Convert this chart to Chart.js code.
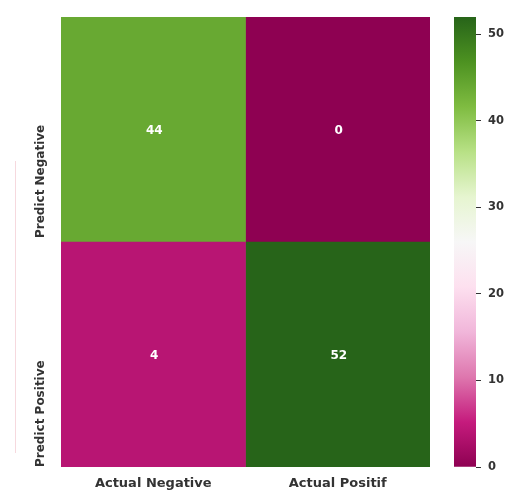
<!DOCTYPE html>
<html>
<head>
<meta charset="utf-8">
<script src="https://cdn.jsdelivr.net/npm/chart.js@4.4.1/dist/chart.umd.min.js"></script>
<style>
  html, body { margin: 0; padding: 0; background: #ffffff; }
  #wrap { position: relative; width: 510px; height: 496px; }
  #heat { position: absolute; left: 0; top: 0; }
  #cbar { position: absolute; left: 440px; top: 0; }
  #rule { position: absolute; left: 15px; top: 161px; width: 0; height: 292px; border-left: 1px solid #f6d9de; }
</style>
</head>
<body>
<div id="wrap">
  <div id="rule"></div>
  <canvas id="heat" width="440" height="496"></canvas>
  <canvas id="cbar" width="70" height="496"></canvas>
</div>
<script>
// Confusion matrix: rows are predictions, columns are actual classes
const rowLabels = ['Predict Negative', 'Predict Positive'];
const colLabels = ['Actual Negative', 'Actual Positif'];
const actualNegative = [44, 4];
const actualPositif = [0, 52];
const colorbarTicks = [0, 10, 20, 30, 40, 50];
const vmin = 0;
const vmax = 52;

// PiYG diverging colormap (11 ColorBrewer stops)
const PIYG = ['#8e0152', '#c51b7d', '#de77ae', '#f1b6da', '#fde0ef', '#f7f7f7',
              '#e6f5d0', '#b8e186', '#7fbc41', '#4d9221', '#276419'];

function hexToRgb(h) {
  return [parseInt(h.slice(1, 3), 16), parseInt(h.slice(3, 5), 16), parseInt(h.slice(5, 7), 16)];
}
function piyg(v) {
  let t = (v - vmin) / (vmax - vmin);
  t = Math.max(0, Math.min(1, t));
  const pos = t * (PIYG.length - 1);
  const i = Math.min(Math.floor(pos), PIYG.length - 2);
  const f = pos - i;
  const a = hexToRgb(PIYG[i]), b = hexToRgb(PIYG[i + 1]);
  const c = a.map((x, k) => Math.round(x + (b[k] - x) * f));
  return 'rgb(' + c.join(',') + ')';
}

const TEXT = '#333333';
const FONT = 'DejaVu Sans, sans-serif';

const columns = [actualNegative, actualPositif];
const datasets = columns.map((vals, ci) => ({
  label: colLabels[ci],
  data: vals.map(() => [ci, ci + 1]),
  values: vals,
  backgroundColor: vals.map(piyg),
  borderWidth: 0,
  barPercentage: 1,
  categoryPercentage: 1
}));

// Cell annotations and rotated row labels
const annotate = {
  id: 'annotate',
  afterDatasetsDraw(chart) {
    const ctx = chart.ctx;
    ctx.save();
    ctx.fillStyle = '#ffffff';
    ctx.font = 'bold 12px ' + FONT;
    ctx.textAlign = 'center';
    ctx.textBaseline = 'middle';
    chart.data.datasets.forEach((ds, di) => {
      chart.getDatasetMeta(di).data.forEach((bar, i) => {
        const cx = (bar.x + bar.base) / 2;
        ctx.fillText(String(ds.values[i]), cx + 1, bar.y + 1);
      });
    });
    ctx.restore();
  },
  afterDraw(chart) {
    const ctx = chart.ctx;
    const y = chart.scales.y;
    ctx.save();
    ctx.fillStyle = TEXT;
    ctx.font = 'bold 12px ' + FONT;
    ctx.textAlign = 'left';
    ctx.textBaseline = 'middle';
    rowLabels.forEach((lab, i) => {
      const bottom = y.getPixelForValue(i + 0.5);
      ctx.save();
      ctx.translate(chart.chartArea.left - 20, bottom - (i === 0 ? 4 : 0));
      ctx.rotate(-Math.PI / 2);
      ctx.fillText(lab, 0, 0);
      ctx.restore();
    });
    ctx.restore();
  }
};

new Chart(document.getElementById('heat'), {
  type: 'bar',
  data: { labels: rowLabels, datasets },
  options: {
    indexAxis: 'y',
    responsive: false,
    animation: false,
    layout: { padding: { left: 61, right: 10, top: 17, bottom: 0 } },
    plugins: { legend: { display: false }, tooltip: { enabled: false } },
    scales: {
      y: {
        type: 'category',
        stacked: true,
        display: false
      },
      x: {
        type: 'linear',
        min: 0,
        max: 2,
        stacked: false,
        grid: { display: false, drawTicks: false },
        border: { display: false },
        afterBuildTicks: (s) => { s.ticks = colLabels.map((_, i) => ({ value: i + 0.5 })); },
        afterFit: (s) => { s.height = 29; },
        ticks: {
          padding: 9,
          color: TEXT,
          font: { family: FONT, size: 13, weight: 'bold' },
          maxRotation: 0,
          callback: (v) => colLabels[Math.floor(v)]
        }
      }
    }
  },
  plugins: [annotate]
});

// Colorbar
function colorbarGradient(context) {
  const chart = context.chart;
  const area = chart.chartArea;
  if (!area) return PIYG[0];
  const y = chart.scales.y;
  const y0 = y.getPixelForValue(vmin), y1 = y.getPixelForValue(vmax);
  const g = chart.ctx.createLinearGradient(0, y0, 0, y1);
  PIYG.forEach((c, i) => g.addColorStop(i / (PIYG.length - 1), c));
  return g;
}

new Chart(document.getElementById('cbar'), {
  type: 'bar',
  data: {
    labels: [''],
    datasets: [{
      data: [[vmin, vmax]],
      backgroundColor: colorbarGradient,
      borderWidth: 0,
      barPercentage: 1,
      categoryPercentage: 1
    }]
  },
  options: {
    responsive: false,
    animation: false,
    layout: { padding: { left: 14, right: 0, top: 17, bottom: 29 } },
    plugins: { legend: { display: false }, tooltip: { enabled: false } },
    scales: {
      x: { display: false },
      y: {
        position: 'right',
        min: vmin,
        max: vmax,
        afterBuildTicks: (s) => { s.ticks = colorbarTicks.map(v => ({ value: v })); },
        afterFit: (s) => { s.width = 34; },
        grid: { drawOnChartArea: false, drawTicks: true, tickLength: 5, color: TEXT, tickColor: TEXT, tickWidth: 1 },
        border: { display: false },
        ticks: {
          padding: 7,
          color: TEXT,
          font: { family: FONT, size: 11.5, weight: 'bold' }
        }
      }
    }
  }
});
</script>
</body>
</html>
